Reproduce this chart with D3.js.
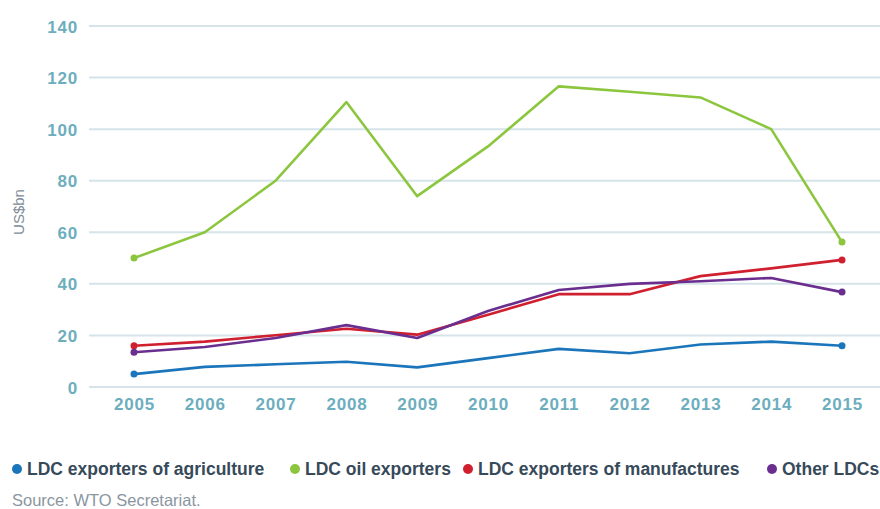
<!DOCTYPE html>
<html><head><meta charset="utf-8">
<script src="https://cdn.jsdelivr.net/npm/d3@7"></script>
<style>body{margin:0;background:#fff;}svg{display:block;font-family:"Liberation Sans",Arial,sans-serif;}</style>
</head><body><svg id="c" width="880" height="509"></svg>
<script>
const years = ["2005","2006","2007","2008","2009","2010","2011","2012","2013","2014","2015"];
const yTicks = [0,20,40,60,80,100,120,140];
const agriculture = [5,7.8,8.8,9.8,7.6,11.2,14.8,13.1,16.5,17.6,16];
const oil = [50,60,80,110.5,74,93.3,116.6,114.5,112.3,100,56.2];
const manufactures = [16,17.6,20.1,22.6,20.3,28,36,36,43,46,49.3];
const otherLDCs = [13.5,15.5,19,24,19,29.5,37.6,40,41,42.3,36.8];
const seriesNames = ["LDC exporters of agriculture","LDC oil exporters","LDC exporters of manufactures","Other LDCs"];
const seriesColors = ["#1a75bb","#8cc63f","#d0202f","#6a2e8f"];
const seriesData = [agriculture, oil, manufactures, otherLDCs];

const svg = d3.select("#c");
const x = d3.scalePoint().domain(years).range([134,842]);
const y = d3.scaleLinear().domain([0,140]).range([387,26]);

// gridlines
svg.append("g").selectAll("line").data(yTicks).join("line")
  .attr("x1",89).attr("x2",880).attr("y1",d=>y(d)).attr("y2",d=>y(d))
  .attr("stroke","#d6e4ea").attr("stroke-width",2);

// y axis labels
const yAxis = d3.axisLeft(y).tickValues(yTicks).tickSize(0).tickPadding(0);
const gy = svg.append("g").attr("transform","translate(78,0)").call(yAxis);
gy.select(".domain").remove();
gy.selectAll("text").attr("fill","#6caebe").attr("font-size",17).attr("font-weight","bold")
  .attr("letter-spacing","0.8px").attr("dy","0.36em");

// x axis labels
const xAxis = d3.axisBottom(x).tickSize(0).tickPadding(0);
const gx = svg.append("g").attr("transform","translate(0,398)").call(xAxis);
gx.select(".domain").remove();
gx.selectAll("text").attr("fill","#6caebe").attr("font-size",17).attr("font-weight","bold")
  .attr("letter-spacing","0.8px").attr("dy","0.71em");

// y title
svg.append("text").attr("transform","translate(24,212) rotate(-90)").attr("text-anchor","middle")
  .attr("fill","#7c8c98").attr("font-size",15).text("US$bn");

const line = d3.line().x((d,i)=>x(years[i])).y(d=>y(d));
seriesData.forEach((s,k)=>{
  svg.append("path").datum(s).attr("d",line).attr("fill","none")
    .attr("stroke",seriesColors[k]).attr("stroke-width",2.6).attr("stroke-linejoin","round");
  [0,s.length-1].forEach(i=>{
    svg.append("circle").attr("cx",x(years[i])).attr("cy",y(s[i])).attr("r",3.5).attr("fill",seriesColors[k]);
  });
});

// legend
const legX = [17,295,468,772];
const lg = svg.append("g");
seriesNames.forEach((n,k)=>{
  lg.append("circle").attr("cx",legX[k]).attr("cy",469).attr("r",5).attr("fill",seriesColors[k]);
  lg.append("text").attr("x",legX[k]+10).attr("y",475).attr("fill","#374a5a")
    .attr("font-size",17.5).attr("font-weight","bold").text(n);
});

svg.append("text").attr("x",12).attr("y",506).attr("fill","#8a969f").attr("font-size",16.5).text("Source: WTO Secretariat.");
</script></body></html>
